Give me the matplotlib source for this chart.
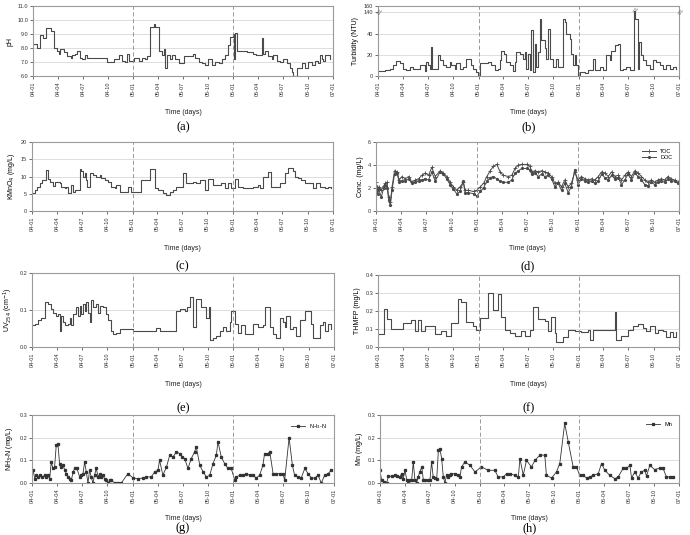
import numpy as np
import pandas as pd
import matplotlib
matplotlib.use("Agg")
import matplotlib.pyplot as plt
import matplotlib.dates as mdates

plt.rcParams["font.family"] = ["Liberation Sans", "DejaVu Sans"]

START = pd.Timestamp("2004-01-01")
END = pd.Timestamp("2007-01-01")
YEAR_LINES = ["2005-01-01", "2006-01-01"]

# (a) pH, days since 2004-01-01
PH_DAY = [0, 15, 27, 38, 46, 64, 76, 88, 94, 100,
          112, 125, 137, 143, 155, 161, 173, 179, 191, 198,
          240, 270, 295, 313, 325, 337, 343, 350, 368, 386,
          398, 410, 416, 426, 441, 447, 461, 471, 477, 483,
          489, 501, 507, 520, 532, 550, 574, 584, 592, 605,
          617, 629, 641, 653, 666, 678, 690, 702, 712, 720,
          732, 735, 739, 745, 775, 781, 805, 816, 835, 841,
          848, 860, 872, 878, 890, 902, 915, 927, 939, 945,
          951, 963, 981, 994, 1006, 1018, 1030, 1042, 1048, 1055,
          1061, 1067, 1085]
PH = [8.3, 8.0, 8.9, 8.7, 9.4, 9.2, 8.0, 7.8, 7.6, 7.9,
      7.7, 7.4, 7.3, 7.5, 7.6, 7.8, 7.3, 7.2, 7.5, 7.3,
      7.3, 7.0, 7.2, 7.5, 7.1, 7.0, 7.6, 7.1, 7.3, 7.1,
      7.3, 7.2, 7.4, 9.5, 9.7, 9.5, 7.8, 7.5, 7.9, 6.6,
      7.5, 7.2, 7.5, 7.2, 6.9, 7.4, 7.4, 7.6, 7.3, 7.0,
      6.9, 6.8, 7.2, 6.8, 7.0, 6.9, 7.2, 7.5, 8.2, 8.8,
      9.0, 7.2, 9.1, 7.8, 7.8, 7.7, 7.6, 7.5, 8.7, 7.6,
      7.8, 7.4, 7.2, 7.5, 7.1, 7.0, 7.2, 6.9, 6.6, 6.3,
      6.0, 6.6, 6.9, 6.6, 7.0, 6.8, 7.1, 6.9, 7.5, 7.2,
      7.1, 7.5, 7.2]

# (b) turbidity
TURB_DAY = [0, 24, 42, 55, 67, 79, 91, 103, 115, 127,
            140, 152, 170, 176, 182, 188, 192, 197, 206, 218,
            225, 237, 249, 261, 267, 279, 285, 297, 309, 322,
            334, 340, 346, 358, 364, 370, 388, 401, 413, 425,
            437, 443, 449, 459, 467, 479, 492, 498, 504, 516,
            528, 534, 540, 546, 552, 558, 564, 570, 577, 583,
            589, 595, 607, 613, 619, 625, 637, 649, 655, 674,
            680, 686, 698, 704, 710, 716, 722, 728, 734, 753,
            765, 783, 789, 807, 819, 831, 843, 850, 862, 874,
            880, 892, 904, 916, 928, 932, 937, 947, 949, 959,
            965, 977, 989, 1001, 1013, 1026, 1038, 1050, 1062, 1074,
            1086]
TURB = [4.7, 5.6, 7, 10, 14, 12, 7, 5.6, 8.7, 7,
        6.5, 10, 4.7, 13.4, 10, 7, 27.5, 7, 7, 19.7,
        15, 10, 8.7, 13.4, 10, 7, 12, 7, 8.7, 15.6,
        15.6, 10, 7, 4, 0.5, 12, 12, 13.4, 10, 5.6,
        7, 15, 24, 21, 13.4, 10, 4.7, 13.4, 22.8, 21,
        16.5, 22.8, 7, 21, 5.6, 43, 4, 30.6, 8.7, 22.8,
        54, 33.7, 26, 16.5, 44.7, 16.5, 8.7, 16.5, 8.7, 54,
        51, 40, 35, 21, 10, 19.7, 10, 1, 4, 2.5,
        5.6, 16.5, 5.6, 8.7, 5.6, 19.7, 15, 24, 29, 30.6,
        5.6, 7, 8.7, 5.6, 5.6, 145, 54, 7, 32, 19.7,
        15, 10, 7, 15, 13.4, 10, 7, 10, 7, 8.7,
        7]

# (c) KMnO4 consumption
KMN_DAY = [0, 10, 18, 28, 38, 52, 58, 64, 76, 83,
           101, 107, 119, 125, 131, 143, 149, 155, 174, 180,
           186, 192, 198, 201, 210, 222, 234, 246, 252, 265,
           277, 289, 301, 307, 319, 350, 362, 398, 428, 447,
           459, 477, 489, 501, 513, 526, 550, 562, 586, 598,
           611, 629, 641, 659, 689, 701, 714, 726, 738, 750,
           768, 805, 823, 829, 841, 859, 871, 902, 920, 932,
           950, 956, 969, 981, 993, 1023, 1035, 1047, 1066, 1078,
           1090]
KMN = [5.3, 6.1, 7.1, 8.1, 9.0, 12.0, 9.2, 8.5, 7.3, 8.5,
       8.1, 7.1, 6.6, 7.1, 5.3, 7.6, 5.6, 6.1, 12.1, 11.5,
       10.0, 11.0, 9.0, 7.1, 11.0, 10.5, 10.0, 10.5, 9.5, 9.0,
       8.5, 7.1, 6.6, 7.6, 5.6, 7.1, 5.6, 9.0, 12.1, 6.6,
       6.1, 5.3, 4.7, 5.6, 6.1, 7.1, 11.0, 8.1, 8.5, 8.1,
       9.0, 6.1, 9.2, 7.6, 8.1, 6.6, 8.1, 6.6, 9.2, 7.1,
       6.6, 7.1, 7.6, 6.6, 10.0, 11.3, 7.1, 8.1, 11.0, 12.4,
       11.5, 9.8, 9.5, 9.0, 8.1, 6.6, 8.1, 7.1, 6.6, 7.1,
       6.8]

# (d) TOC / DOC
OC_DAY = [0, 6, 10, 19, 28, 34, 40, 46, 52, 58,
          67, 76, 84, 94, 106, 118, 130, 142, 154, 166,
          178, 190, 202, 214, 232, 244, 256, 268, 280, 292,
          304, 316, 322, 334, 353, 365, 377, 389, 401, 413,
          425, 437, 449, 461, 479, 491, 503, 515, 527, 545,
          557, 563, 575, 587, 599, 611, 623, 635, 647, 659,
          671, 683, 695, 707, 719, 731, 743, 756, 768, 780,
          792, 804, 816, 828, 840, 852, 864, 876, 888, 900,
          912, 924, 936, 948, 960, 972, 984, 996, 1008, 1020,
          1032, 1044, 1056, 1068, 1080, 1092]
TOC = [2.5, 1.8, 2.1, 1.8, 2.2, 2.4, 2.5, 1.2, 0.8, 2.1,
       3.5, 3.4, 2.7, 3.0, 2.8, 3.0, 2.5, 2.7, 2.8, 3.1,
       3.3, 3.1, 3.8, 3.0, 3.5, 3.3, 3.0, 2.5, 2.1, 1.8,
       2.1, 2.5, 1.8, 1.8, 1.7, 1.8, 2.1, 2.4, 3.0, 3.5,
       3.9, 4.05, 3.4, 3.1, 3.0, 3.1, 3.7, 4.0, 4.05, 4.05,
       3.9, 3.4, 3.5, 3.4, 3.5, 3.4, 3.3, 3.0, 2.4, 2.5,
       2.1, 2.7, 2.1, 2.4, 3.4, 2.7, 3.0, 2.8, 2.7, 2.8,
       2.7, 3.0, 3.4, 3.3, 3.0, 3.4, 3.0, 3.1, 2.7, 3.1,
       3.4, 3.0, 3.5, 3.3, 3.0, 2.7, 2.5, 2.7, 2.5, 2.7,
       2.8, 2.7, 3.0, 2.8, 2.7, 2.5]
DOC = [2.2, 1.5, 1.9, 1.2, 2.0, 2.3, 2.0, 1.0, 0.5, 1.8,
       3.2, 3.3, 2.5, 2.6, 2.6, 2.8, 2.4, 2.5, 2.6, 2.7,
       2.8, 2.7, 3.4, 2.6, 3.4, 3.2, 2.8, 2.3, 1.9, 1.5,
       1.7, 2.6, 1.6, 1.6, 1.5, 1.3, 1.7, 2.0, 2.6, 2.9,
       3.0, 2.8, 2.6, 2.5, 2.5, 2.7, 3.3, 3.5, 3.7, 3.7,
       3.6, 3.2, 3.3, 3.0, 3.2, 3.0, 3.1, 2.8, 2.1, 2.4,
       1.8, 2.4, 1.6, 2.1, 3.6, 2.3, 2.8, 2.6, 2.5, 2.6,
       2.4, 2.6, 3.2, 2.9, 2.7, 3.1, 2.8, 2.9, 2.3, 2.7,
       3.2, 2.7, 3.3, 3.0, 2.7, 2.3, 2.2, 2.5, 2.3, 2.5,
       2.6, 2.5, 2.8, 2.6, 2.6, 2.4]

# (e) UV254
UV_DAY = [0, 10, 22, 34, 46, 58, 70, 76, 86, 94,
          100, 106, 113, 119, 131, 137, 143, 149, 158, 167,
          173, 179, 185, 191, 197, 203, 209, 215, 221, 233,
          240, 246, 258, 267, 276, 288, 294, 306, 318, 367,
          451, 463, 524, 536, 554, 563, 572, 584, 596, 615,
          633, 642, 647, 657, 669, 681, 693, 705, 718, 724,
          736, 748, 760, 772, 802, 820, 838, 844, 863, 875,
          887, 899, 911, 917, 923, 935, 947, 959, 971, 990,
          1014, 1020, 1044, 1056, 1062, 1074, 1086]
UV = [0.059, 0.063, 0.073, 0.078, 0.121, 0.116, 0.102, 0.092, 0.083, 0.088,
      0.044, 0.083, 0.068, 0.059, 0.063, 0.078, 0.059, 0.088, 0.107, 0.083,
      0.112, 0.088, 0.116, 0.097, 0.121, 0.092, 0.068, 0.126, 0.107, 0.116,
      0.092, 0.112, 0.107, 0.088, 0.073, 0.044, 0.035, 0.039, 0.049, 0.044,
      0.051, 0.044, 0.097, 0.102, 0.097, 0.107, 0.136, 0.054, 0.131, 0.107,
      0.078, 0.107, 0.020, 0.025, 0.030, 0.044, 0.054, 0.044, 0.068, 0.097,
      0.063, 0.039, 0.059, 0.035, 0.063, 0.054, 0.059, 0.107, 0.054, 0.035,
      0.025, 0.078, 0.068, 0.054, 0.083, 0.049, 0.054, 0.030, 0.073, 0.097,
      0.063, 0.025, 0.059, 0.068, 0.044, 0.063, 0.049]

# (f) THMFP
THM_DAY = [0, 22, 34, 49, 91, 121, 134, 146, 158, 170,
           206, 231, 249, 267, 291, 303, 322, 346, 358, 370,
           401, 419, 437, 449, 461, 479, 498, 522, 534, 552,
           564, 583, 607, 619, 631, 643, 649, 674, 692, 716,
           740, 765, 771, 783, 862, 868, 886, 910, 928, 947,
           965, 977, 989, 1007, 1020, 1038, 1050, 1062, 1074, 1084]
THM = [0.072, 0.213, 0.155, 0.100, 0.135, 0.151, 0.087, 0.151, 0.087, 0.116,
       0.072, 0.087, 0.062, 0.135, 0.267, 0.248, 0.139, 0.116, 0.093, 0.159,
       0.300, 0.203, 0.294, 0.164, 0.097, 0.077, 0.062, 0.087, 0.062, 0.097,
       0.222, 0.155, 0.145, 0.087, 0.164, 0.077, 0.029, 0.058, 0.093, 0.087,
       0.081, 0.097, 0.039, 0.097, 0.193, 0.039, 0.062, 0.097, 0.116, 0.126,
       0.106, 0.087, 0.116, 0.077, 0.097, 0.087, 0.058, 0.081, 0.058, 0.081]

# (g) NH3-N
NH3_DAY = [4, 10, 16, 22, 28, 38, 46, 52, 58, 64,
           70, 76, 82, 88, 94, 100, 106, 113, 119, 125,
           131, 137, 143, 149, 155, 163, 173, 179, 185, 191,
           197, 203, 209, 215, 221, 227, 233, 240, 246, 252,
           258, 264, 270, 276, 282, 288, 300, 312, 324, 348,
           367, 385, 403, 415, 433, 445, 457, 463, 475, 488,
           500, 512, 524, 536, 546, 554, 566, 578, 590, 596,
           609, 621, 633, 645, 657, 669, 675, 687, 699, 711,
           723, 736, 742, 754, 766, 778, 790, 802, 814, 826,
           838, 844, 856, 863, 875, 887, 899, 911, 917, 933,
           945, 953, 965, 977, 990, 1002, 1014, 1026, 1038, 1050,
           1062, 1074, 1086]
NH3 = [0.056, 0.019, 0.034, 0.027, 0.034, 0.027, 0.034, 0.027, 0.034, 0.019,
       0.093, 0.064, 0.071, 0.167, 0.174, 0.086, 0.071, 0.078, 0.056, 0.041,
       0.027, 0.016, 0.012, 0.049, 0.064, 0.064, 0.027, 0.034, 0.041, 0.093,
       0.049, 0.000, 0.056, 0.027, 0.000, 0.034, 0.064, 0.027, 0.041, 0.027,
       0.034, 0.016, 0.012, 0.000, 0.012, 0.012, 0.000, 0.000, 0.000, 0.041,
       0.022, 0.019, 0.022, 0.027, 0.027, 0.049, 0.056, 0.100, 0.034, 0.071,
       0.123, 0.115, 0.137, 0.130, 0.115, 0.108, 0.064, 0.108, 0.137, 0.160,
       0.078, 0.049, 0.027, 0.034, 0.086, 0.123, 0.182, 0.115, 0.086, 0.064,
       0.064, 0.012, 0.027, 0.034, 0.034, 0.041, 0.034, 0.034, 0.022, 0.034,
       0.078, 0.130, 0.130, 0.137, 0.041, 0.041, 0.041, 0.041, 0.012, 0.200,
       0.078, 0.034, 0.027, 0.022, 0.064, 0.041, 0.022, 0.022, 0.034, 0.000,
       0.034, 0.041, 0.056]

# (h) Mn
MN_DAY = [0, 6, 16, 24, 31, 43, 55, 61, 73, 79,
          85, 92, 98, 104, 110, 116, 122, 128, 134, 140,
          146, 153, 159, 165, 177, 183, 189, 195, 201, 208,
          214, 220, 226, 232, 238, 244, 250, 256, 262, 275,
          287, 293, 299, 311, 330, 348, 372, 397, 421, 433,
          452, 464, 476, 494, 507, 513, 525, 537, 555, 568,
          586, 604, 610, 629, 647, 659, 677, 690, 708, 720,
          732, 745, 757, 769, 781, 800, 812, 824, 842, 861,
          873, 891, 903, 916, 922, 934, 946, 958, 970, 977,
          989, 1007, 1025, 1037, 1050, 1062, 1074]
MN = [0.056, 0.012, 0.004, 0.000, 0.030, 0.030, 0.034, 0.030, 0.027, 0.041,
      0.019, 0.056, 0.012, 0.007, 0.012, 0.012, 0.093, 0.012, 0.000, 0.027,
      0.049, 0.071, 0.012, 0.012, 0.012, 0.012, 0.093, 0.027, 0.022, 0.019,
      0.145, 0.148, 0.108, 0.027, 0.000, 0.034, 0.027, 0.034, 0.041, 0.041,
      0.034, 0.027, 0.071, 0.093, 0.078, 0.049, 0.071, 0.056, 0.056, 0.027,
      0.027, 0.041, 0.041, 0.034, 0.027, 0.108, 0.034, 0.100, 0.071, 0.100,
      0.123, 0.123, 0.034, 0.022, 0.049, 0.086, 0.263, 0.182, 0.071, 0.071,
      0.034, 0.034, 0.022, 0.027, 0.034, 0.041, 0.086, 0.056, 0.034, 0.019,
      0.027, 0.064, 0.064, 0.078, 0.022, 0.049, 0.022, 0.049, 0.056, 0.031,
      0.078, 0.059, 0.066, 0.066, 0.027, 0.027, 0.027]

LINE_C = "#4a4a4a"
TICK_FS = 4
LAB_FS = 5


def to_dates(days):
    return START + pd.to_timedelta(np.asarray(days), unit="D")


def style_axis(ax, ylabel, yticks, fmt):
    ax.set_xlim(START, END)
    ax.set_ylim(yticks[0], yticks[-1])
    ax.set_yticks(yticks)
    ax.set_yticklabels([fmt.format(t) for t in yticks])
    ax.set_xticks(pd.date_range(START, END, freq="3MS"))
    ax.xaxis.set_major_formatter(mdates.DateFormatter("%y-%m"))
    ax.tick_params(axis="x", labelrotation=90, labelsize=TICK_FS, length=2,
                   width=0.5, pad=2, colors="#333333")
    ax.tick_params(axis="y", labelsize=TICK_FS, length=2, width=0.5, pad=1.5,
                   colors="#333333")
    ax.grid(axis="y", color="#d0d0d0", lw=0.5)
    ax.set_axisbelow(True)
    for s in ax.spines.values():
        s.set_color("#9a9a9a")
        s.set_linewidth(0.8)
    for d in YEAR_LINES:
        ax.axvline(pd.Timestamp(d), color="#8a8a8a", lw=0.6, ls=(0, (5, 3)))
    ax.set_ylabel(ylabel, fontsize=LAB_FS, labelpad=3)


fig = plt.figure(figsize=(6.9, 5.35), dpi=100)
W, H = 690.0, 535.0


def add_ax(left, right, top, bottom):
    return fig.add_axes([left / W, 1 - bottom / H, (right - left) / W, (bottom - top) / H])


ax_a = add_ax(33, 333, 6, 76)
ax_b = add_ax(378, 679, 6, 76)
ax_c = add_ax(32, 333, 142, 211)
ax_d = add_ax(376, 679, 142, 211)
ax_e = add_ax(32, 334, 273, 347)
ax_f = add_ax(378, 679, 275, 347)
ax_g = add_ax(32, 334, 415, 483)
ax_h = add_ax(380, 679, 415, 483)

# (a)
ax_a.plot(to_dates(PH_DAY), PH, drawstyle="steps-post", color=LINE_C, lw=0.8)
style_axis(ax_a, "pH", [6.0, 7.0, 8.0, 9.0, 10.0, 11.0], "{:.1f}")

# (b) broken axis: 0-60 linear, 140-160 compressed
def turb_fwd(y):
    y = np.asarray(y, dtype=float)
    return np.where(y <= 60, y, np.where(y < 140, 60, 60 + (y - 140) * 0.3))


def turb_inv(d):
    d = np.asarray(d, dtype=float)
    return np.where(d <= 60, d, 140 + (d - 60) / 0.3)


ax_b.set_yscale("function", functions=(turb_fwd, turb_inv))
ax_b.plot(to_dates(TURB_DAY), TURB, drawstyle="steps-post", color=LINE_C, lw=0.8)
style_axis(ax_b, "Turbidity (NTU)", [0, 20, 40, 140, 160], "{:d}")
for xa in (0.0, 1.0):
    ax_b.text(xa, 0.89, "//", transform=ax_b.transAxes, fontsize=5, rotation=-20,
              ha="center", va="center", color="#555555")
ax_b.text(to_dates([932])[0], 0.93, "//", transform=ax_b.get_xaxis_transform(),
          fontsize=5, rotation=-20, ha="center", va="center", color="#555555")

# (c)
ax_c.plot(to_dates(KMN_DAY), KMN, drawstyle="steps-post", color=LINE_C, lw=0.8)
style_axis(ax_c, "KMnO$_4$ (mg/L)", [0, 5, 10, 15, 20], "{:d}")

# (d)
ax_d.plot(to_dates(OC_DAY), TOC, color=LINE_C, lw=0.7, marker="+", ms=2.5,
          mew=0.6, label="TOC")
ax_d.plot(to_dates(OC_DAY), DOC, color=LINE_C, lw=0.7, marker="o", ms=1.3,
          label="DOC")
style_axis(ax_d, "Conc. (mg/L)", [0, 2, 4, 6], "{:d}")
ax_d.legend(loc="upper right", fontsize=4, frameon=False, handlelength=2.5,
            borderaxespad=0.8, labelspacing=0.3)

# (e)
ax_e.plot(to_dates(UV_DAY), UV, drawstyle="steps-post", color=LINE_C, lw=0.8)
style_axis(ax_e, "UV$_{254}$ (cm$^{-1}$)", [0.0, 0.1, 0.2], "{:.1f}")

# (f)
ax_f.plot(to_dates(THM_DAY), THM, drawstyle="steps-post", color=LINE_C, lw=0.8)
style_axis(ax_f, "THMFP (mg/L)", [0.0, 0.1, 0.2, 0.3, 0.4], "{:.1f}")

# (g)
ax_g.plot(to_dates(NH3_DAY), NH3, color="#333333", lw=0.6, marker="s", ms=1.4,
          label="NH$_3$-N")
style_axis(ax_g, "NH$_3$-N (mg/L)", [0.0, 0.1, 0.2, 0.3], "{:.1f}")
ax_g.legend(loc="upper right", fontsize=4, frameon=False, handlelength=2.5,
            borderaxespad=0.8)

# (h)
ax_h.plot(to_dates(MN_DAY), MN, color="#333333", lw=0.6, marker="s", ms=1.4,
          label="Mn")
style_axis(ax_h, "Mn (mg/L)", [0.0, 0.1, 0.2, 0.3], "{:.1f}")
ax_h.legend(loc="upper right", fontsize=4, frameon=False, handlelength=2.5,
            borderaxespad=0.8)

# x labels and panel letters
rows = [(112, 127, ax_a, ax_b, "(a)", "(b)"),
        (248, 266, ax_c, ax_d, "(c)", "(d)"),
        (384, 408, ax_e, ax_f, "(e)", "(f)"),
        (518, 528, ax_g, ax_h, "(g)", "(h)")]
for ty, ly, axl, axr, ll, lr in rows:
    for ax, let in ((axl, ll), (axr, lr)):
        pos = ax.get_position()
        cx = pos.x0 + pos.width / 2
        fig.text(cx, 1 - ty / H, "Time (days)", fontsize=LAB_FS, ha="center",
                 va="center", color="#222222")
        fig.text(cx, 1 - ly / H, let, fontsize=9, ha="center", va="center",
                 family="Liberation Serif")

fig.savefig("out.png", dpi=100)
